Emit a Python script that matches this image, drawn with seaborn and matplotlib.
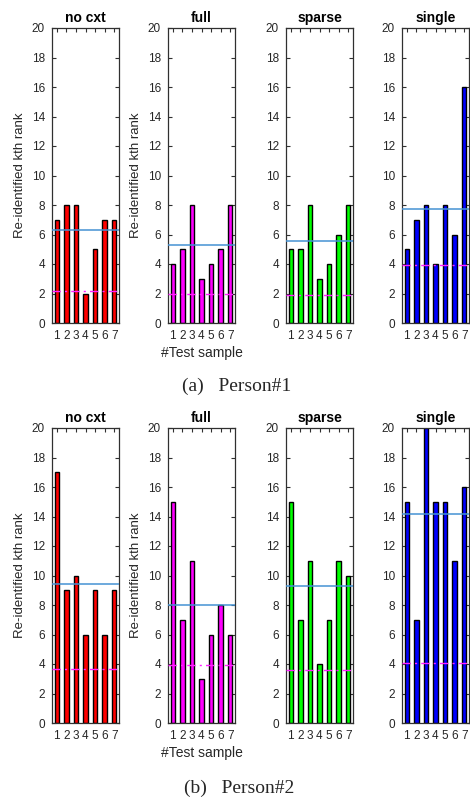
import numpy as np
import pandas as pd
import matplotlib
matplotlib.use("Agg")
import matplotlib.pyplot as plt
import seaborn as sns

sns.set_style("white")
plt.rcParams['font.family'] = ['Liberation Sans', 'DejaVu Sans']

samples = [1, 2, 3, 4, 5, 6, 7]
methods = ["no cxt", "full", "sparse", "single"]
colors = ["#ff0000", "#ff00ff", "#00ff00", "#0000ff"]

person1 = {
    "no cxt": [7, 8, 8, 2, 5, 7, 7],
    "full":   [4, 5, 8, 3, 4, 5, 8],
    "sparse": [5, 5, 8, 3, 4, 6, 8],
    "single": [5, 7, 8, 4, 8, 6, 16],
}
person2 = {
    "no cxt": [17, 9, 10, 6, 9, 6, 9],
    "full":   [15, 7, 11, 3, 6, 8, 6],
    "sparse": [15, 7, 11, 4, 7, 11, 10],
    "single": [15, 7, 20, 15, 15, 11, 16],
}
captions = ["(a)   Person#1", "(b)   Person#2"]
ylabel = "Re-identified kth rank"
xlabel = "#Test sample"
yticks = list(range(0, 21, 2))

W, H = 470, 798
fig = plt.figure(figsize=(W / 100, H / 100), dpi=100)

lefts = [52, 168, 286, 402]
axw = 67
rows = [(28, 323), (428, 723)]
spine_col = "#303030"
txt_col = "#262626"

for r, (data, (top, bot)) in enumerate(zip([person1, person2], rows)):
    for c, m in enumerate(methods):
        ax = fig.add_axes([lefts[c] / W, 1 - bot / H, axw / W, (bot - top) / H])
        vals = data[m]
        df = pd.DataFrame({"sample": samples, "rank": vals})
        sns.barplot(data=df, x="sample", y="rank", native_scale=True, width=0.45,
                    color=colors[c], saturation=1, edgecolor="black", linewidth=1.0,
                    ax=ax, errorbar=None)
        mean = np.mean(vals)
        std = np.std(vals, ddof=1)
        ax.axhline(mean, color="#4592d3", lw=1.1, zorder=5)
        ax.axhline(std, color="#ff22ff", lw=1.0, ls=(0, (6, 3, 1.5, 3)), zorder=5)
        ax.set_xlim(0.5, 7.5)
        ax.set_ylim(0, 20)
        ax.set_yticks(yticks)
        ax.set_xticks(samples)
        ax.set_xticklabels([str(s) for s in samples])
        ax.tick_params(axis="both", direction="in", length=3, width=0.8,
                       colors=spine_col, labelsize=8.5, top=True, right=True,
                       bottom=True, left=True, labelcolor=txt_col)
        ax.tick_params(axis="x", pad=5)
        ax.tick_params(axis="y", pad=5)
        for s in ax.spines.values():
            s.set_visible(True)
            s.set_color(spine_col)
            s.set_linewidth(0.9)
        ax.set_title(m, fontsize=10, fontweight="bold", pad=4, color="black")
        if c < 2:
            ax.set_ylabel(ylabel, fontsize=9.5, color=txt_col, labelpad=4)
        else:
            ax.set_ylabel("")
        if c == 1:
            ax.set_xlabel(xlabel, fontsize=10, color=txt_col, labelpad=3)
        else:
            ax.set_xlabel("")

fig.text(237 / W, 1 - 386 / H, captions[0], ha="center", va="center",
         fontsize=14, family=["Liberation Serif", "DejaVu Serif"])
fig.text(239 / W, 1 - 788 / H, captions[1], ha="center", va="center",
         fontsize=14, family=["Liberation Serif", "DejaVu Serif"])

fig.savefig("out.png", dpi=100)
